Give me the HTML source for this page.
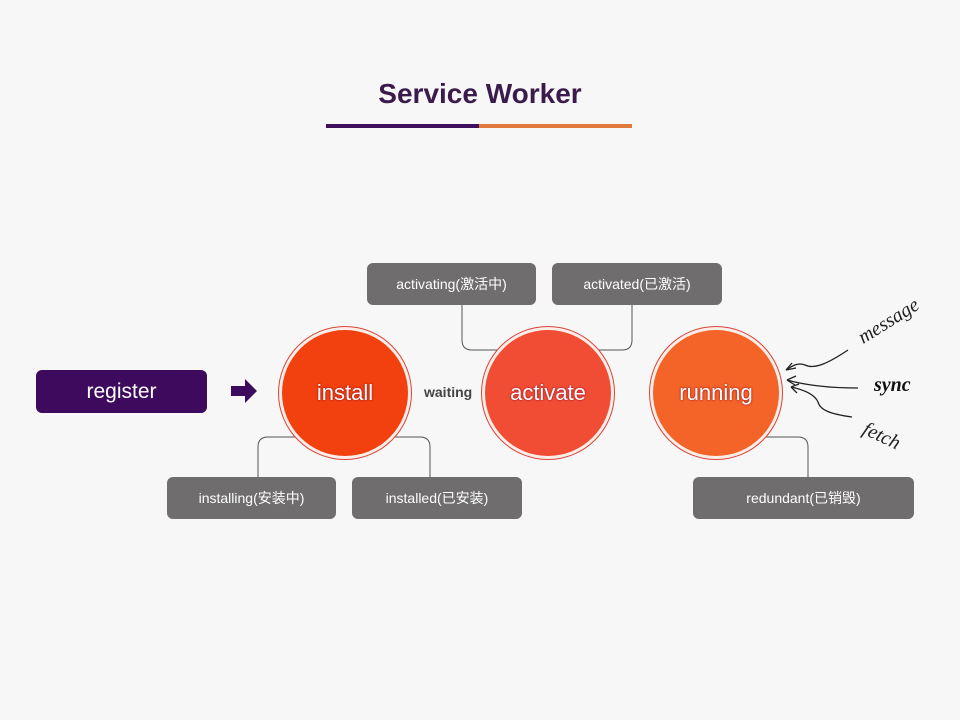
<!DOCTYPE html>
<html><head><meta charset="utf-8"><style>
body{margin:0;width:960px;height:720px;background:#f7f7f8;font-family:"Liberation Sans","Noto Sans CJK SC",sans-serif;overflow:hidden;position:relative}
.box{position:absolute;background:#6f6d6e;color:#fff;border-radius:6px;font-size:14px;display:flex;align-items:center;justify-content:center}
.c{position:absolute;border-radius:50%;display:flex;align-items:center;justify-content:center;color:#fff;font-size:22px;box-shadow:0 0 0 3px #fbeee8,0 0 0 4px #d9443a;text-shadow:0 0 2px #802}
</style></head><body>
<div style="position:absolute;left:0;width:960px;top:78px;text-align:center;font-size:28px;font-weight:bold;color:#3b1a4c">Service Worker</div>
<div style="position:absolute;left:326px;top:124px;width:153px;height:4px;background:#3e0f5c"></div>
<div style="position:absolute;left:479px;top:124px;width:153px;height:4px;background:#e17a3a"></div>
<svg width="960" height="720" style="position:absolute;left:0;top:0" fill="none" stroke="#555" stroke-width="1">
<path d="M462 305 V340 Q462 350 472 350 H500"/>
<path d="M632 305 V340 Q632 350 622 350 H595"/>
<path d="M298 437 H268 Q258 437 258 447 V477"/>
<path d="M387 437 H420 Q430 437 430 447 V477"/>
<path d="M760 437 H798 Q808 437 808 447 V477"/>
<g stroke="#222" stroke-width="1.3">
<path d="M848 350 C830 362 815 370 805 365 C798 362 792 366 786 370"/>
<path d="M786 370 l10 -2 M786 370 l6 -7"/>
<path d="M858 388 C830 388 805 385 787 380"/>
<path d="M787 380 l9 -4 M787 380 l8 5"/>
<path d="M852 417 C830 414 820 410 818 402 C815 395 805 390 791 387"/>
<path d="M791 387 l8 -3 M791 387 l6 6"/>
</g>
<path d="M231 386 h14 v-7 l12 12 l-12 12 v-7 h-14z" fill="#3e0a5e" stroke="none"/>
</svg>
<div class="box" style="left:36px;top:370px;width:171px;height:43px;background:#3e0a5e;font-size:21px">register</div>
<div class="c" style="left:282px;top:330px;width:126px;height:126px;background:#f2400f">install</div>
<div class="c" style="left:485px;top:330px;width:126px;height:126px;background:#f14d35">activate</div>
<div class="c" style="left:653px;top:330px;width:126px;height:126px;background:#f46328">running</div>
<div style="position:absolute;left:424px;top:384px;font-size:14px;font-weight:bold;color:#444">waiting</div>
<div class="box" style="left:367px;top:263px;width:169px;height:42px">activating(激活中)</div>
<div class="box" style="left:552px;top:263px;width:170px;height:42px">activated(已激活)</div>
<div class="box" style="left:167px;top:477px;width:169px;height:42px">installing(安装中)</div>
<div class="box" style="left:352px;top:477px;width:170px;height:42px">installed(已安装)</div>
<div class="box" style="left:693px;top:477px;width:221px;height:42px">redundant(已销毁)</div>
<div style="position:absolute;left:855px;top:310px;transform:rotate(-32deg);font-style:italic;font-family:'Liberation Serif',serif;font-size:20px;color:#222">message</div>
<div style="position:absolute;left:874px;top:374px;font-style:italic;font-weight:bold;font-family:'Liberation Serif',serif;font-size:20px;color:#111">sync</div>
<div style="position:absolute;left:862px;top:425px;transform:rotate(25deg);font-style:italic;font-family:'Liberation Serif',serif;font-size:20px;color:#222">fetch</div>
</body></html>
